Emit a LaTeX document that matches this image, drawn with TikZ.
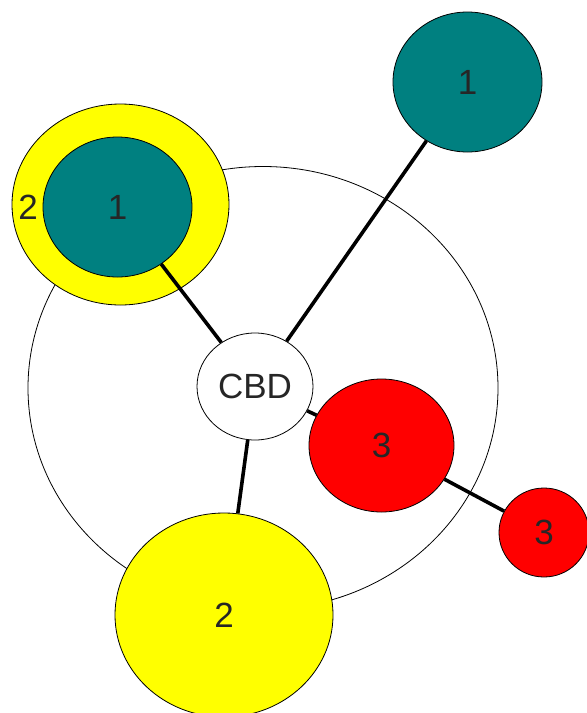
\documentclass[tikz,border=0pt]{standalone}
\usepackage{fontspec}
\setmainfont{Liberation Sans}
\usetikzlibrary{shapes.geometric}
\definecolor{tealc}{RGB}{0,128,128}
\definecolor{yel}{RGB}{255,255,0}
\definecolor{redc}{RGB}{255,0,0}
\tikzset{
  blob/.style={ellipse, draw=black, line width=0.8pt, inner sep=0pt,
    font=\fontsize{35}{35}\selectfont, text=black!85},
  conn/.style={line width=3.6pt, black},
  ring/.style={draw=black, line width=0.8pt}
}
\begin{document}
\begin{tikzpicture}[x=1pt,y=-1pt]
\useasboundingbox[fill=white] (0,0) rectangle (587,713);
% big thin zone ellipse
\draw[ring] (263,388) ellipse [x radius=235, y radius=221.5];
% nodes
\node[blob, fill=white, minimum width=116pt, minimum height=107pt] (cbd) at (255,386.5) {CBD};
\node[blob, fill=tealc, minimum width=149pt, minimum height=140pt] (t1) at (467.5,82) {1};
\node[blob, fill=yel, minimum width=217pt, minimum height=201pt] (y2a) at (120.5,204.5) {};
\node[blob, fill=tealc, minimum width=149pt, minimum height=140pt] (t1b) at (117.5,207) {1};
\node[font=\fontsize{35}{35}\selectfont, text=black!85, inner sep=0pt] (lab2) at (28,207) {2};
\node[blob, fill=redc, minimum width=145pt, minimum height=133pt] (r3) at (381.5,445.5) {3};
\node[blob, fill=redc, minimum width=90pt, minimum height=89pt] (r3b) at (544,532.5) {3};
\node[blob, fill=yel, minimum width=218pt, minimum height=204pt] (y2) at (224,615) {2};
% connectors
\draw[conn] (cbd) -- (t1);
\draw[conn] (cbd) -- (t1b);
\draw[conn] (cbd) -- (y2);
\draw[conn] (cbd) -- (r3);
\draw[conn] (r3) -- (r3b);
\end{tikzpicture}
\end{document}
